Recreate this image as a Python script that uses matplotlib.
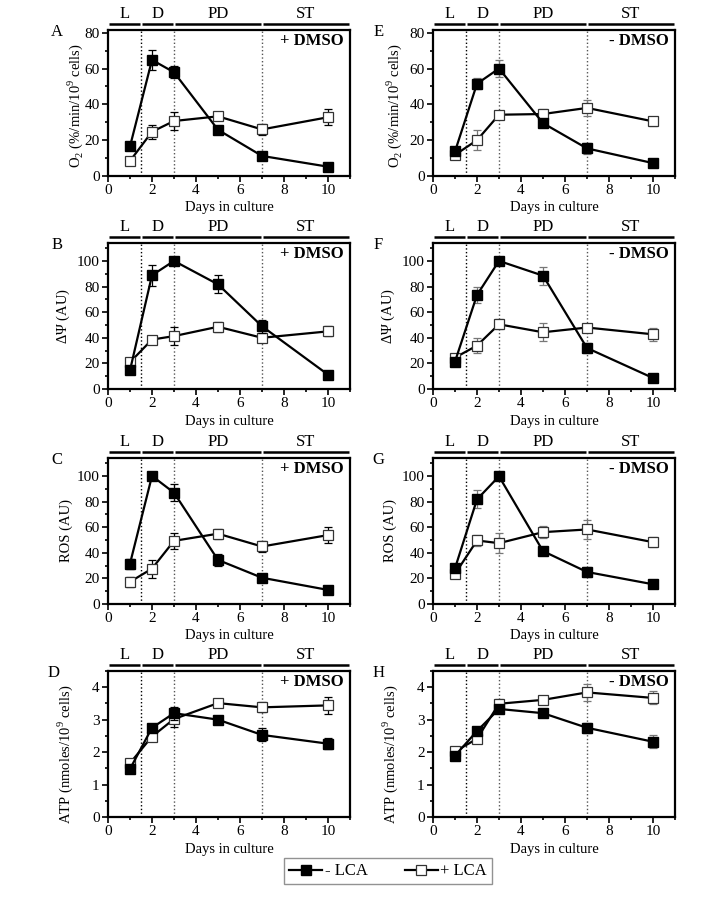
import matplotlib
matplotlib.use('Agg')
from matplotlib import pyplot as plt
from matplotlib.ticker import MultipleLocator
from matplotlib.lines import Line2D
import matplotlib.transforms as mtransforms
import numpy as np

plt.rcParams['font.family'] = ['Liberation Serif', 'DejaVu Serif']
plt.rcParams['mathtext.fontset'] = 'custom'
plt.rcParams['mathtext.rm'] = 'Liberation Serif'

days = [1, 2, 3, 5, 7, 10]

# O2 consumption
o2_plus_dmso_minus_lca = [16.5, 64.8, 57.9, 25.8, 11.2, 5.2]
o2_plus_dmso_minus_lca_err = [1.2, 5.5, 3.3, 1.0, 2.0, 1.0]
o2_plus_dmso_plus_lca = [8.4, 24.7, 30.7, 33.3, 26.0, 32.8]
o2_plus_dmso_plus_lca_err = [1.5, 4.0, 5.3, 1.5, 3.0, 4.5]
o2_minus_dmso_minus_lca = [13.7, 51.5, 60.0, 29.5, 15.4, 7.2]
o2_minus_dmso_minus_lca_err = [1.0, 3.0, 5.0, 2.0, 3.0, 1.0]
o2_minus_dmso_plus_lca = [11.8, 20.0, 34.2, 34.6, 38.0, 30.5]
o2_minus_dmso_plus_lca_err = [1.5, 5.5, 1.0, 3.0, 4.5, 2.5]

# membrane potential
dpsi_plus_dmso_minus_lca = [14.6, 88.8, 100.0, 81.7, 49.0, 11.2]
dpsi_plus_dmso_minus_lca_err = [1.0, 8.0, 3.0, 7.0, 5.0, 1.0]
dpsi_plus_dmso_plus_lca = [20.9, 38.6, 41.3, 48.6, 40.0, 45.0]
dpsi_plus_dmso_plus_lca_err = [3.0, 2.0, 7.0, 4.0, 2.0, 4.0]
dpsi_minus_dmso_minus_lca = [21.4, 73.4, 100.0, 88.5, 32.0, 8.6]
dpsi_minus_dmso_minus_lca_err = [3.0, 6.0, 2.0, 7.0, 4.0, 1.0]
dpsi_minus_dmso_plus_lca = [24.5, 33.9, 50.5, 44.3, 48.0, 42.7]
dpsi_minus_dmso_plus_lca_err = [3.0, 6.0, 4.0, 7.0, 3.0, 5.0]

# ROS
ros_plus_dmso_minus_lca = [31.5, 100.0, 86.9, 34.4, 20.5, 11.0]
ros_plus_dmso_minus_lca_err = [4.0, 3.0, 6.5, 4.5, 3.0, 1.0]
ros_plus_dmso_plus_lca = [17.3, 27.6, 49.3, 54.9, 44.9, 53.8]
ros_plus_dmso_plus_lca_err = [4.0, 7.0, 6.0, 4.0, 4.0, 6.5]
ros_minus_dmso_minus_lca = [27.9, 81.7, 99.7, 41.3, 25.0, 15.4]
ros_minus_dmso_minus_lca_err = [2.0, 7.0, 2.0, 2.5, 4.0, 1.0]
ros_minus_dmso_plus_lca = [23.5, 49.6, 47.5, 56.1, 58.2, 48.3]
ros_minus_dmso_plus_lca_err = [2.0, 4.5, 8.0, 4.5, 7.5, 4.0]

# ATP
atp_plus_dmso_minus_lca = [1.48, 2.75, 3.20, 3.00, 2.53, 2.26]
atp_plus_dmso_minus_lca_err = [0.05, 0.08, 0.20, 0.08, 0.20, 0.17]
atp_plus_dmso_plus_lca = [1.66, 2.48, 3.02, 3.51, 3.38, 3.44]
atp_plus_dmso_plus_lca_err = [0.10, 0.12, 0.25, 0.08, 0.15, 0.25]
atp_minus_dmso_minus_lca = [1.89, 2.65, 3.33, 3.20, 2.75, 2.32]
atp_minus_dmso_minus_lca_err = [0.05, 0.10, 0.05, 0.06, 0.15, 0.20]
atp_minus_dmso_plus_lca = [2.02, 2.41, 3.49, 3.61, 3.84, 3.67]
atp_minus_dmso_plus_lca_err = [0.12, 0.10, 0.15, 0.12, 0.25, 0.20]

phases = ['L', 'D', 'PD', 'ST']
phase_starts = [0, 1.5, 3, 7]
phase_ends = [1.5, 3, 7, 11]
phase_lines = [1.5, 3, 7]

ylabels = ['O$_2$ (%/min/10$^9$ cells)', r'$\Delta\Psi$ (AU)', 'ROS (AU)',
           'ATP (nmoles/10$^9$ cells)']
ylabel_y = [0.48, 0.5, 0.5, 0.43]
ylims = [81.5, 114, 114, 4.5]
ymajor = [20, 20, 20, 1]
yminor = [10, 10, 10, 0.5]

panels = [
    ['A', '+ DMSO', o2_plus_dmso_minus_lca, o2_plus_dmso_minus_lca_err, o2_plus_dmso_plus_lca, o2_plus_dmso_plus_lca_err],
    ['B', '+ DMSO', dpsi_plus_dmso_minus_lca, dpsi_plus_dmso_minus_lca_err, dpsi_plus_dmso_plus_lca, dpsi_plus_dmso_plus_lca_err],
    ['C', '+ DMSO', ros_plus_dmso_minus_lca, ros_plus_dmso_minus_lca_err, ros_plus_dmso_plus_lca, ros_plus_dmso_plus_lca_err],
    ['D', '+ DMSO', atp_plus_dmso_minus_lca, atp_plus_dmso_minus_lca_err, atp_plus_dmso_plus_lca, atp_plus_dmso_plus_lca_err],
    ['E', '- DMSO', o2_minus_dmso_minus_lca, o2_minus_dmso_minus_lca_err, o2_minus_dmso_plus_lca, o2_minus_dmso_plus_lca_err],
    ['F', '- DMSO', dpsi_minus_dmso_minus_lca, dpsi_minus_dmso_minus_lca_err, dpsi_minus_dmso_plus_lca, dpsi_minus_dmso_plus_lca_err],
    ['G', '- DMSO', ros_minus_dmso_minus_lca, ros_minus_dmso_minus_lca_err, ros_minus_dmso_plus_lca, ros_minus_dmso_plus_lca_err],
    ['H', '- DMSO', atp_minus_dmso_minus_lca, atp_minus_dmso_minus_lca_err, atp_minus_dmso_plus_lca, atp_minus_dmso_plus_lca_err],
]
# x of y-label and panel letter (axes fraction), one per panel
ylabel_x = [-0.095, -0.149, -0.145, -0.136, -0.12, -0.149, -0.149, -0.136]
letter_x = [-0.21, -0.21, -0.21, -0.225, -0.225, -0.225, -0.225, -0.225]

W, H = 720, 911
fig = plt.figure(figsize=(7.2, 9.11), dpi=100)
lefts = [108, 433]
tops = [30, 243, 458, 671]
aw, ah = 242, 146

for n, p in enumerate(panels):
    col = n // 4
    row = n % 4
    ax = fig.add_axes([lefts[col] / W, 1 - (tops[row] + ah) / H, aw / W, ah / H])
    ecol = 'black' if col == 0 else '#777777'

    for xl in phase_lines:
        ax.axvline(xl, color='#555555' if xl != 1.5 else 'black', ls=':', lw=1.0, zorder=1)

    ax.errorbar(days, p[4], yerr=p[5], color='black', lw=1.6, marker='s', ms=6.5,
                mfc='white', mec='#333333', mew=0.9, ecolor=ecol, elinewidth=0.9,
                capsize=3, capthick=0.9, zorder=3)
    ax.errorbar(days, p[2], yerr=p[3], color='black', lw=1.6, marker='s', ms=6.5,
                mfc='black', mec='black', ecolor=ecol, elinewidth=0.9,
                capsize=3, capthick=0.9, zorder=4)

    ax.set_xlim(0, 11)
    ax.set_ylim(0, ylims[row])
    ax.xaxis.set_major_locator(MultipleLocator(2))
    ax.xaxis.set_minor_locator(MultipleLocator(1))
    ax.yaxis.set_major_locator(MultipleLocator(ymajor[row]))
    ax.yaxis.set_minor_locator(MultipleLocator(yminor[row]))
    ax.tick_params(which='both', direction='out', top=False, right=False, labelsize=11, width=1.2)
    ax.tick_params(which='major', length=4, pad=2)
    ax.tick_params(which='minor', length=2.5)
    for s in ax.spines.values():
        s.set_linewidth(1.6)
    ax.set_xlabel('Days in culture', fontsize=10.5, labelpad=3)
    ax.set_ylabel(ylabels[row], fontsize=10.5)
    ax.yaxis.set_label_coords(ylabel_x[n], ylabel_y[row])

    trans = mtransforms.blended_transform_factory(ax.transData, ax.transAxes)
    for ph, a, b in zip(phases, phase_starts, phase_ends):
        ax.plot([a + 0.04, b - 0.04], [1.038, 1.038], color='black', lw=1.8,
                transform=trans, clip_on=False, solid_capstyle='butt')
        ax.text((a + b) / 2, 1.055, ph, transform=trans, ha='center', va='bottom', fontsize=12)

    ax.text(0.975, 0.925, p[1], transform=ax.transAxes, ha='right', va='center',
            fontsize=12, fontweight='bold')
    ax.text(letter_x[n], 0.985, p[0], transform=ax.transAxes, ha='center', va='center', fontsize=12)

h_minus = Line2D([], [], color='black', lw=1.6, marker='s', ms=6.5, mfc='black', mec='black')
h_plus = Line2D([], [], color='black', lw=1.6, marker='s', ms=6.5, mfc='white', mec='#333333', mew=0.9)
leg = fig.legend([h_minus, h_plus], ['- LCA', '+ LCA'], loc='center', bbox_to_anchor=(0.539, 0.0434),
                 ncol=2, fontsize=12, frameon=True, fancybox=False, edgecolor='#777777',
                 handlelength=2.0, handletextpad=0.15, columnspacing=2.2, borderpad=0.3)
leg.get_frame().set_linewidth(1.0)

fig.savefig('out.png', dpi=100)
